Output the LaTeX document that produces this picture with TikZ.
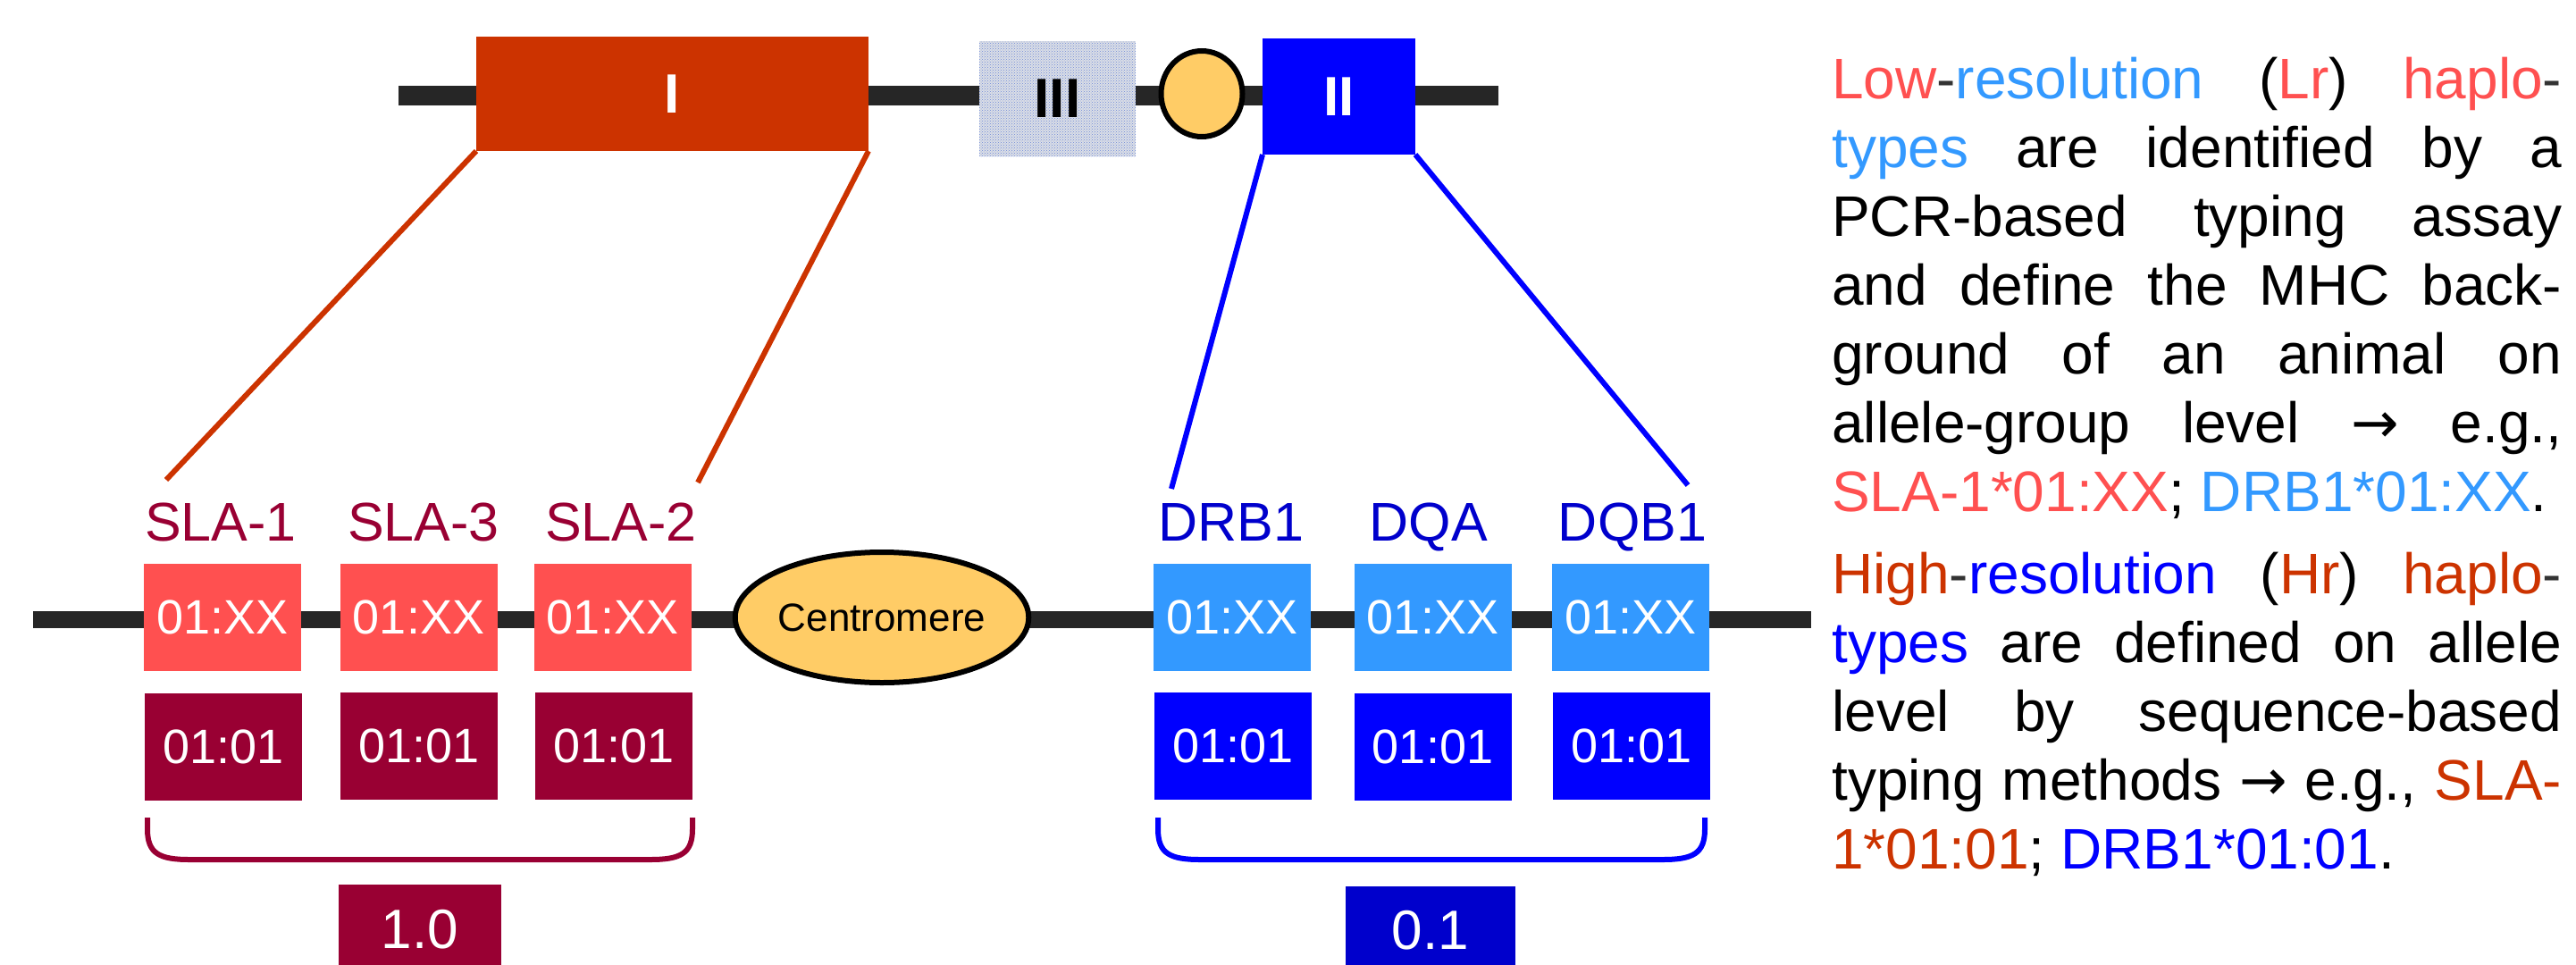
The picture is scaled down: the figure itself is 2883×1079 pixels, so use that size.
\documentclass[tikz,border=0pt]{standalone}
\usepackage{fontspec}
\setmainfont{Liberation Sans}
\newfontfamily\sym{DejaVu Sans}
\usetikzlibrary{shapes.geometric,patterns}
\definecolor{lred}{HTML}{FF5050}
\definecolor{lblue}{HTML}{3399FF}
\definecolor{dred}{HTML}{CC3300}
\definecolor{pblue}{HTML}{0000FF}
\definecolor{maroon}{HTML}{990033}
\definecolor{nblue}{HTML}{0000CC}
\definecolor{chrom}{HTML}{262626}
\definecolor{dgrey}{HTML}{333333}
\definecolor{cent}{HTML}{FFCC66}
\definecolor{hatch}{HTML}{DCDFE6}
\definecolor{hatchdot}{HTML}{6A86D8}
\tikzset{
  chromline/.style={line width=#1, color=chrom},
  region/.style={rectangle, inner sep=0pt, outer sep=0pt, font=\fontsize{62}{70}\selectfont\bfseries},
  allele/.style={rectangle, inner sep=0pt, outer sep=0pt, minimum width=176, minimum height=120, text=white, font=\fontsize{54}{60}\selectfont},
  genelabel/.style={anchor=base, inner sep=0pt, font=\fontsize{61}{70}\selectfont},
  zoomline/.style={line width=6},
  bracketline/.style={line width=6},
  scorebox/.style={rectangle, inner sep=0pt, outer sep=0pt, minimum width=184, text=white, font=\fontsize{62}{70}\selectfont},
  para/.style={anchor=base west, inner sep=0pt, text width=817, align=justify, font=\fontsize{64}{77}\selectfont}
}
\begin{document}
\begin{tikzpicture}[x=1pt,y=-1pt]
\useasboundingbox (0,0) rectangle (2883,1079);
% top chromosome
\coordinate (tL) at (446,107);
\coordinate (tR) at (1677,107);
\draw[chromline=22] (tL) -- (tR);
\node[region, fill=dred, text=white, minimum width=439, minimum height=128] (rI) at (752.5,105) {I};
\node[region, fill=hatch, postaction={pattern=crosshatch dots, pattern color=hatchdot}, text=black, minimum width=175, minimum height=129] (rIII) at (1183.5,110.5) {III};
\node[ellipse, draw=black, line width=6, fill=cent, inner sep=0pt, minimum width=91, minimum height=96] (cen1) at (1345,105) {};
\node[region, fill=pblue, text=white, minimum width=171, minimum height=130] (rII) at (1498.5,108) {II};
% zoom lines
\coordinate (zI1) at (186,537);
\coordinate (zI2) at (781,540);
\coordinate (zII1) at (1311,547);
\coordinate (zII2) at (1889,543);
\draw[zoomline, dred] (rI.south west) -- (zI1);
\draw[zoomline, dred] (rI.south east) -- (zI2);
\draw[zoomline, pblue] (rII.south west) -- (zII1);
\draw[zoomline, pblue] (rII.south east) -- (zII2);
% middle chromosome
\coordinate (mL) at (37,693);
\coordinate (mR) at (2027,693);
\draw[chromline=19] (mL) -- (mR);
% labels
\node[genelabel, text=maroon] (l1) at (247,605) {SLA-1};
\node[genelabel, text=maroon] (l3) at (474,605) {SLA-3};
\node[genelabel, text=maroon] (l2) at (695,605) {SLA-2};
\node[genelabel, text=nblue] (d1) at (1378,605) {DRB1};
\node[genelabel, text=nblue] (d2) at (1599,605) {DQA};
\node[genelabel, text=nblue] (d3) at (1827,605) {DQB1};
% low-resolution boxes
\node[allele, fill=lred] (a1) at (249,691) {01:XX};
\node[allele, fill=lred] (a3) at (468.5,691) {01:XX};
\node[allele, fill=lred] (a2) at (685.5,691) {01:XX};
\node[allele, fill=lblue] (b1) at (1379,691) {01:XX};
\node[allele, fill=lblue] (b2) at (1603.5,691) {01:XX};
\node[allele, fill=lblue] (b3) at (1825,691) {01:XX};
% high-resolution boxes
\node[allele, fill=maroon] (h1) at (250,836) {01:01};
\node[allele, fill=maroon] (h3) at (469,835) {01:01};
\node[allele, fill=maroon] (h2) at (687,835) {01:01};
\node[allele, fill=pblue] (k1) at (1380,835) {01:01};
\node[allele, fill=pblue] (k2) at (1603.5,836) {01:01};
\node[allele, fill=pblue] (k3) at (1826,835) {01:01};
% centromere
\node[ellipse, draw=black, line width=6, fill=cent, inner sep=0pt, minimum width=315, minimum height=146, font=\fontsize{44}{50}\selectfont] (cen2) at (987,691) {Centromere};
% brackets
\coordinate (br1a) at (165,915);
\coordinate (br1b) at (775,915);
\draw[bracketline, maroon] (br1a) -- (165,928) .. controls (165,955) and (178,962) .. (212,962) -- (728,962) .. controls (762,962) and (775,955) .. (775,928) -- (br1b);
\coordinate (br2a) at (1296,915);
\coordinate (br2b) at (1908,915);
\draw[bracketline, pblue] (br2a) -- (1296,928) .. controls (1296,955) and (1309,962) .. (1343,962) -- (1861,962) .. controls (1895,962) and (1908,955) .. (1908,928) -- (br2b);
% score boxes
\node[scorebox, fill=maroon, minimum width=182, minimum height=100] (s1) at (470,1040) {1.0};
\node[scorebox, fill=nblue, minimum width=190, minimum height=98] (s2) at (1601,1041) {0.1};
% right text
\node[para] (p1) at (2050,110.7) {\hyphenpenalty=10000\exhyphenpenalty=10000\tolerance=10000%
\textcolor{lred}{Low}\textcolor{dgrey}{-}\textcolor{lblue}{resolution} (\textcolor{lred}{Lr}) \textcolor{lred}{haplo}\textcolor{dgrey}{-}\linebreak
\textcolor{lblue}{types} are identified by a\linebreak
PCR-based typing assay\linebreak
and define the MHC back-\linebreak
ground of an animal on\linebreak
allele-group level {\sym →} e.g.,\linebreak
\textcolor{lred}{SLA-1*01:XX}; \textcolor{lblue}{DRB1*01:XX}.};
\node[para] (p2) at (2050,664) {\hyphenpenalty=10000\exhyphenpenalty=10000\tolerance=10000%
\textcolor{dred}{High}\textcolor{dgrey}{-}\textcolor{pblue}{resolution} (\textcolor{dred}{Hr}) \textcolor{dred}{haplo}\textcolor{dgrey}{-}\linebreak
\textcolor{pblue}{types} are defined on allele\linebreak
level by sequence-based\linebreak
typing methods {\sym →} e.g., \textcolor{dred}{SLA-}\linebreak
\textcolor{dred}{1*01:01}; \textcolor{pblue}{DRB1*01:01}.};
\end{tikzpicture}
\end{document}
